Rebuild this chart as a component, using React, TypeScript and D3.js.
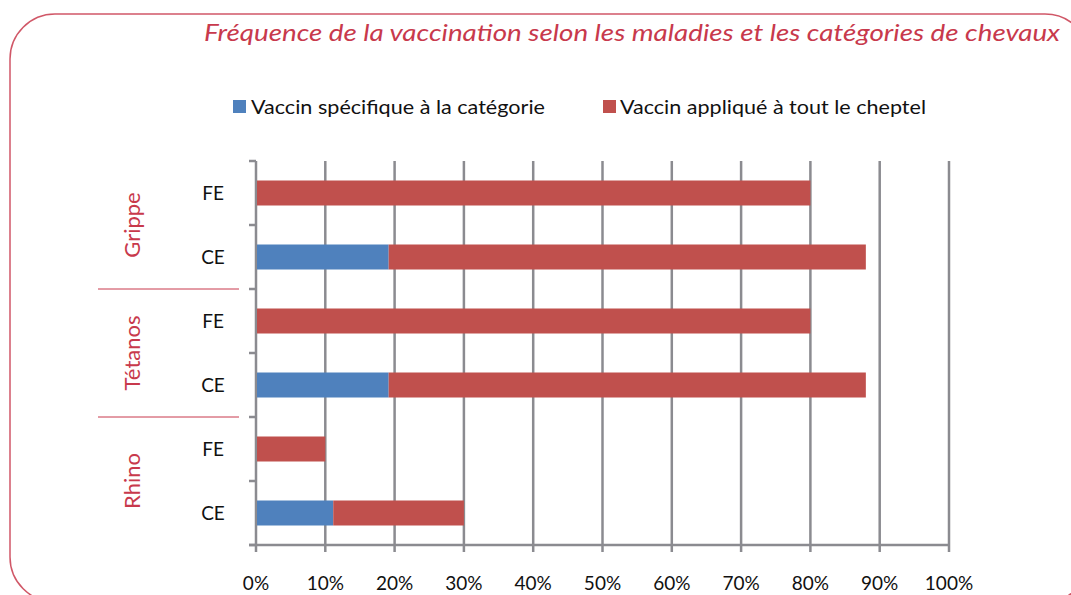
import React from 'react';
import * as d3 from 'd3';

const groups = ['Grippe', 'Tétanos', 'Rhino'];
const subCategories = ['FE', 'CE'];
// rows top to bottom
const rowGroup = ['Grippe', 'Grippe', 'Tétanos', 'Tétanos', 'Rhino', 'Rhino'];
const rowLabel = ['FE', 'CE', 'FE', 'CE', 'FE', 'CE'];
const specificValues = [0, 19, 0, 19, 0, 11];
const herdValues = [80, 69, 80, 69, 10, 19];
const xTicks = [0, 10, 20, 30, 40, 50, 60, 70, 80, 90, 100];

const seriesNames = ['Vaccin spécifique à la catégorie', 'Vaccin appliqué à tout le cheptel'];
const seriesColors = ['#4f81bd', '#c0504d'];

const W = 1071;
const H = 595;
const margin = { left: 256, right: 122, top: 161, bottom: 50 };
const gridColor = '#8b8b90';
const accent = '#c8394c';
const font = 'Lato, "Open Sans", sans-serif';

const App: React.FC = () => {
  const x = d3.scaleLinear().domain([0, 100]).range([margin.left, W - margin.right]);
  const rows = d3.range(rowLabel.length);
  const y = d3.scaleBand<number>().domain(rows).range([margin.top, H - margin.bottom]).paddingInner(0).paddingOuter(0);
  const bh = 25;
  const bottom = H - margin.bottom;

  const stack = rows.map((i) => {
    const a = specificValues[i];
    const b = herdValues[i];
    return [
      [0, a],
      [a, a + b],
    ];
  });

  return (
    <svg width={W} height={H} style={{ position: 'absolute', left: 0, top: 0 }}>
      <rect x={10} y={14} width={1080} height={588} rx={45} ry={45} fill="none" stroke={accent} strokeWidth={1.5} opacity={0.85} />
      <text
        x={1060}
        y={41}
        textAnchor="end"
        fill={accent}
        fontFamily={font}
        fontStyle="italic"
        fontWeight={400}
        fontSize={23}
        textLength={856}
        lengthAdjust="spacingAndGlyphs"
      >
        Fréquence de la vaccination selon les maladies et les catégories de chevaux
      </text>

      {/* legend */}
      <rect x={233} y={100} width={13} height={13} fill={seriesColors[0]} />
      <text x={251} y={114} fontFamily={font} fontSize={19} fill="#111" textLength={294} lengthAdjust="spacingAndGlyphs">
        {seriesNames[0]}
      </text>
      <rect x={603} y={100} width={13} height={13} fill={seriesColors[1]} />
      <text x={620} y={114} fontFamily={font} fontSize={19} fill="#111" textLength={306} lengthAdjust="spacingAndGlyphs">
        {seriesNames[1]}
      </text>

      {/* grid */}
      {xTicks.map((t) => (
        <line key={`g${t}`} x1={x(t)} x2={x(t)} y1={margin.top} y2={bottom + 7} stroke={gridColor} strokeWidth={2.5} />
      ))}
      <line x1={x(0) - 7} x2={x(100)} y1={bottom} y2={bottom} stroke={gridColor} strokeWidth={2.5} />
      {d3.range(rows.length + 1).map((i) => {
        const yy = margin.top + i * y.bandwidth();
        return <line key={`t${i}`} x1={x(0) - 7} x2={x(0)} y1={yy} y2={yy} stroke={gridColor} strokeWidth={2.5} />;
      })}

      {/* bars */}
      {rows.map((i) =>
        stack[i].map(([a, b], s) =>
          b > a ? (
            <rect
              key={`b${i}-${s}`}
              x={x(a) + 1}
              y={(y(i) as number) + (y.bandwidth() - bh) / 2}
              width={x(b) - x(a) - (s === 0 ? 0 : 1)}
              height={bh}
              fill={seriesColors[s]}
            />
          ) : null
        )
      )}

      {/* x tick labels */}
      {xTicks.map((t) => (
        <text key={`l${t}`} x={x(t)} y={590} textAnchor="middle" fontFamily={font} fontSize={19} fill="#111">
          {t}%
        </text>
      ))}

      {/* row labels */}
      {rows.map((i) => (
        <text
          key={`r${i}`}
          x={213}
          y={(y(i) as number) + y.bandwidth() / 2 + 7}
          textAnchor="middle"
          fontFamily={font}
          fontSize={19}
          fill="#111"
        >
          {subCategories.includes(rowLabel[i]) ? rowLabel[i] : ''}
        </text>
      ))}

      {/* group labels and separators */}
      {groups.map((g, gi) => {
        const idx = rows.filter((i) => rowGroup[i] === g);
        const y0 = y(idx[0]) as number;
        const y1 = (y(idx[idx.length - 1]) as number) + y.bandwidth();
        const cy = (y0 + y1) / 2;
        return (
          <g key={g}>
            <text
              transform={`translate(140,${cy}) rotate(-90)`}
              textAnchor="middle"
              fontFamily={font}
              fontSize={22}
              fill={accent}
            >
              {g}
            </text>
            {gi > 0 ? <line x1={98} x2={239} y1={y0} y2={y0} stroke={accent} strokeWidth={1} /> : null}
          </g>
        );
      })}
    </svg>
  );
};

export default App;
